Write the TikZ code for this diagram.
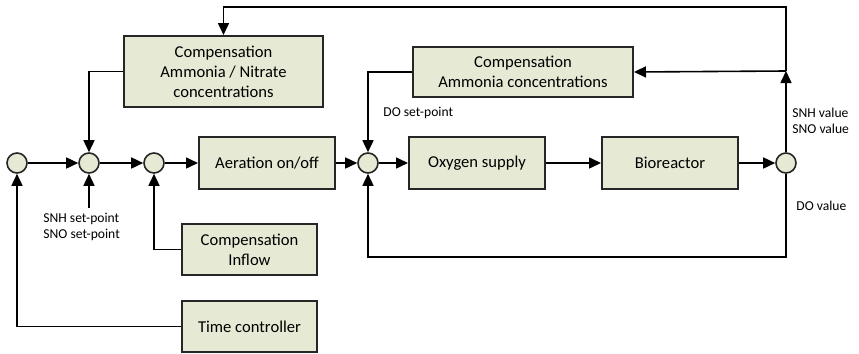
\documentclass[tikz,border=0pt]{standalone}
\usepackage{fontspec}
\setmainfont{Carlito}
\usetikzlibrary{arrows.meta}

\definecolor{boxfill}{HTML}{E6E9D4}

\tikzset{
  block/.style={draw=black!85, line width=1pt, fill=boxfill, align=center,
    inner sep=0pt, font=\fontsize{8.3}{10}\selectfont},
  junction/.style={circle, draw=black!85, line width=0.8pt, fill=boxfill,
    minimum size=10pt, inner sep=0pt},
  wire/.style={line width=0.8pt, -{Triangle[length=6pt,width=5.5pt]}},
  lbl/.style={font=\fontsize{6.8}{8}\selectfont, inner sep=0pt, align=left}
}

\begin{document}
\begin{tikzpicture}[x=0.5pt, y=-0.5pt]
  \useasboundingbox (0,0) rectangle (859,354);

  % summing points
  \node[junction] (s1) at (17,163) {};
  \node[junction] (s2) at (89,163) {};
  \node[junction] (s3) at (154,163) {};
  \node[junction] (s4) at (368,163) {};
  \node[junction] (s5) at (786,163) {};

  % blocks
  \node[block, minimum width=99.5pt, minimum height=35.5pt] (compan) at (223.5,71.5)
    {Compensation\\Ammonia / Nitrate\\concentrations};
  \node[block, minimum width=110pt, minimum height=25pt] (compam) at (523,72)
    {Compensation\\Ammonia concentrations};
  \node[block, minimum width=68pt, minimum height=26pt] (aer) at (267,163) {Aeration on/off};
  \node[block, minimum width=68pt, minimum height=26pt] (oxy) at (477,163) {Oxygen supply};
  \node[block, minimum width=68pt, minimum height=26pt] (bio) at (670,163) {Bioreactor};
  \node[block, minimum width=67.5pt, minimum height=25.5pt] (inflow) at (249.5,249.5)
    {Compensation\\Inflow};
  \node[block, minimum width=67.5pt, minimum height=25.5pt] (timer) at (249.5,326.5)
    {Time controller};

  % forward path
  \draw[wire] (s1) -- (s2);
  \draw[wire] (s2) -- (s3);
  \draw[wire] (s3) -- (aer);
  \draw[wire] (aer) -- (s4);
  \draw[wire] (s4) -- (oxy);
  \draw[wire] (oxy) -- (bio);
  \draw[wire] (bio) -- (s5);

  % compensations into the summing points
  \draw[wire] (compan.west) -| (s2.north);
  \draw[wire] (compam.west) -| (s4.north);
  \draw[wire] (inflow.west) -| (s3.south);
  \draw[wire] (timer.west) -| (s1.south);

  \coordinate (sp) at (89,208);
  \draw[wire] (sp) -- (s2.south);

  % measured values fed back
  \coordinate (tap) at (786,71);
  \coordinate (topright) at (786,7);
  \coordinate (botright) at (786,257);
  \draw[wire] (s5.north) -- (tap);
  \draw[wire] (tap) -- (compam.east);
  \draw[wire] (tap) -- (topright) -| (compan.north);
  \draw[wire] (s5.south) -- (botright) -| (s4.south);

  % signal names
  \node[lbl, anchor=west] (dosp) at (383,113) {DO set-point};
  \node[lbl, anchor=west] (snhv) at (792,120.5) {SNH value\\SNO value};
  \node[lbl, anchor=west] (dov) at (796,206) {DO value};
  \node[lbl, anchor=north west] (snhsp) at (43,213) {SNH set-point\\SNO set-point};
\end{tikzpicture}
\end{document}
